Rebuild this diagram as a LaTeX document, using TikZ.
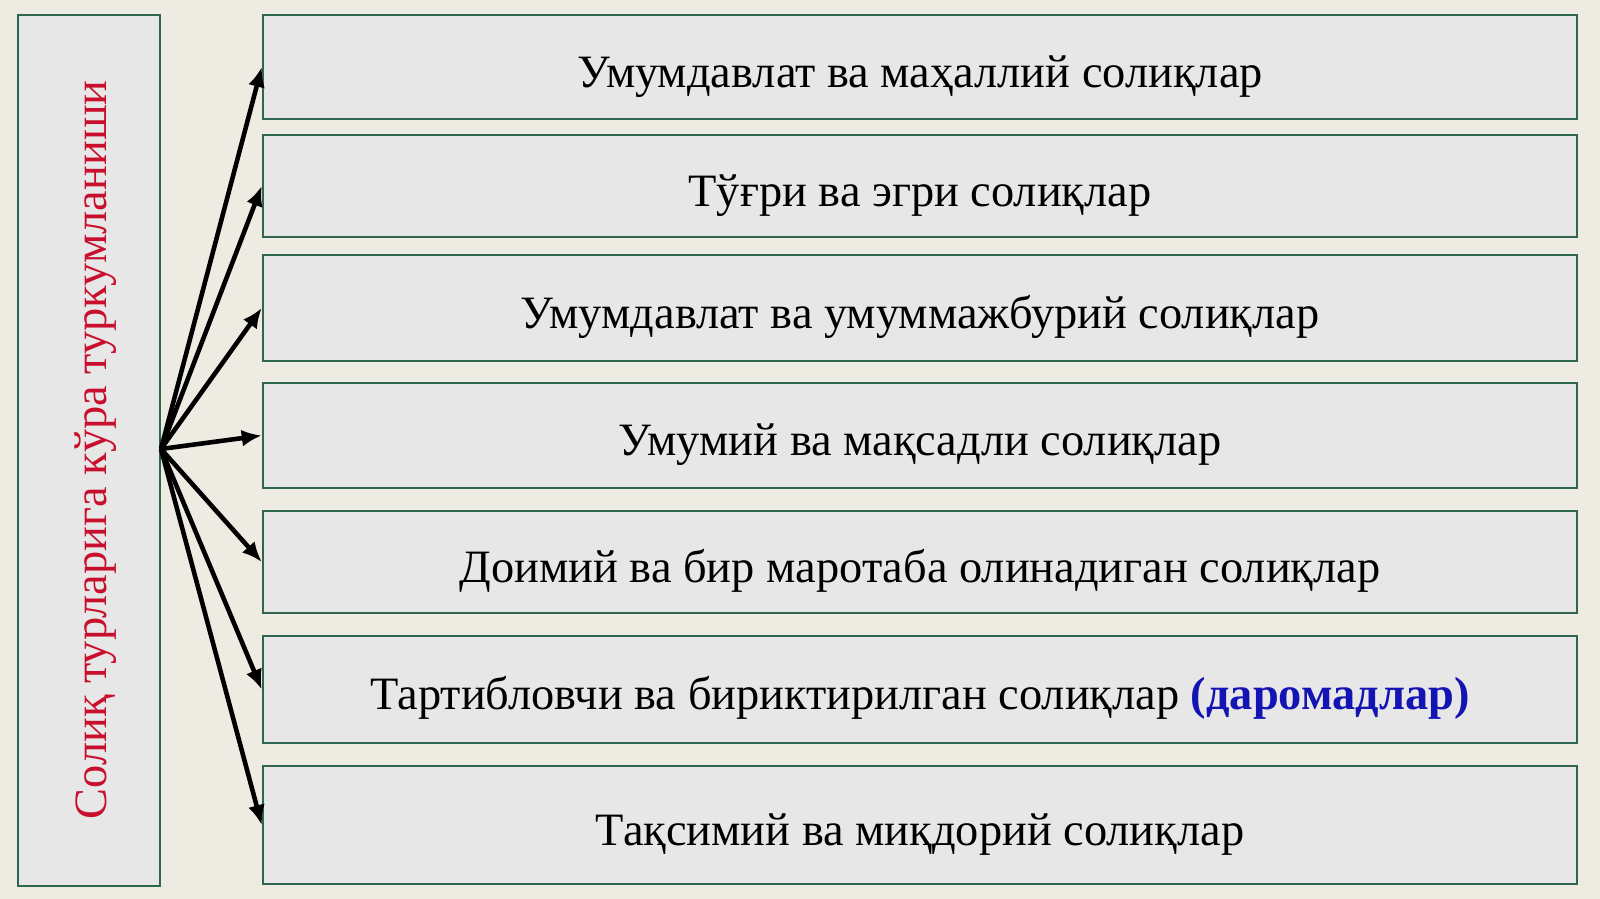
\documentclass[tikz,border=0pt]{standalone}
\usepackage{fontspec}
\setmainfont{Liberation Serif}
\usetikzlibrary{arrows.meta}
\definecolor{bgbeige}{HTML}{EEEBE3}
\definecolor{boxgray}{HTML}{E6E7E6}
\definecolor{boxline}{HTML}{2F6650}
\definecolor{titlered}{HTML}{C8102E}
\definecolor{noteblue}{HTML}{1414B4}
\begin{document}
\begin{tikzpicture}[
		kind/.style={rectangle, draw=boxline, fill=boxgray, line width=0.7pt, minimum width=13.14cm, text height=14pt, text depth=2.4pt, font=\fontsize{13.2}{15}\selectfont},
		every edge/.style={draw, line width=1.3pt, -{Latex[length=2mm, width=1.7mm]}}
	]
  \fill[bgbeige] (0,0) rectangle (16,8.99);
  \useasboundingbox (0,0) rectangle (16,8.99);
  \node (title) [rectangle, draw=boxline, fill=boxgray, line width=0.7pt, minimum width=1.42cm, minimum height=8.71cm] at (0.89cm, 4.485cm) {};
  \node [rotate=90, text=titlered, font=\fontsize{13.2}{15}\selectfont] at (0.96cm, 4.49cm) {Солиқ турларига кўра туркумланиши};
  \coordinate (src) at (1.61cm, 4.50cm);
  \node (k1) [kind, minimum height=1.04cm] at (9.20cm, 8.32cm) {Умумдавлат ва маҳаллий солиқлар};
  \node (k2) [kind, minimum height=1.02cm] at (9.20cm, 7.13cm) {Тўғри ва эгри солиқлар};
  \node (k3) [kind, minimum height=1.06cm] at (9.20cm, 5.91cm) {Умумдавлат ва умуммажбурий солиқлар};
  \node (k4) [kind, minimum height=1.05cm] at (9.20cm, 4.635cm) {Умумий ва мақсадли солиқлар};
  \node (k5) [kind, minimum height=1.02cm] at (9.20cm, 3.37cm) {Доимий ва бир маротаба олинадиган солиқлар};
  \node (k6) [kind, minimum height=1.07cm] at (9.20cm, 2.095cm) {Тартибловчи ва бириктирилган солиқлар \textbf{\textcolor{noteblue}{(даромадлар)}}};
  \node (k7) [kind, minimum height=1.18cm] at (9.20cm, 0.74cm) {Тақсимий ва миқдорий солиқлар};
  \foreach \k in {k1,k2,k3,k4,k5,k6,k7}
    \draw (src) edge (\k.west);
\end{tikzpicture}
\end{document}
